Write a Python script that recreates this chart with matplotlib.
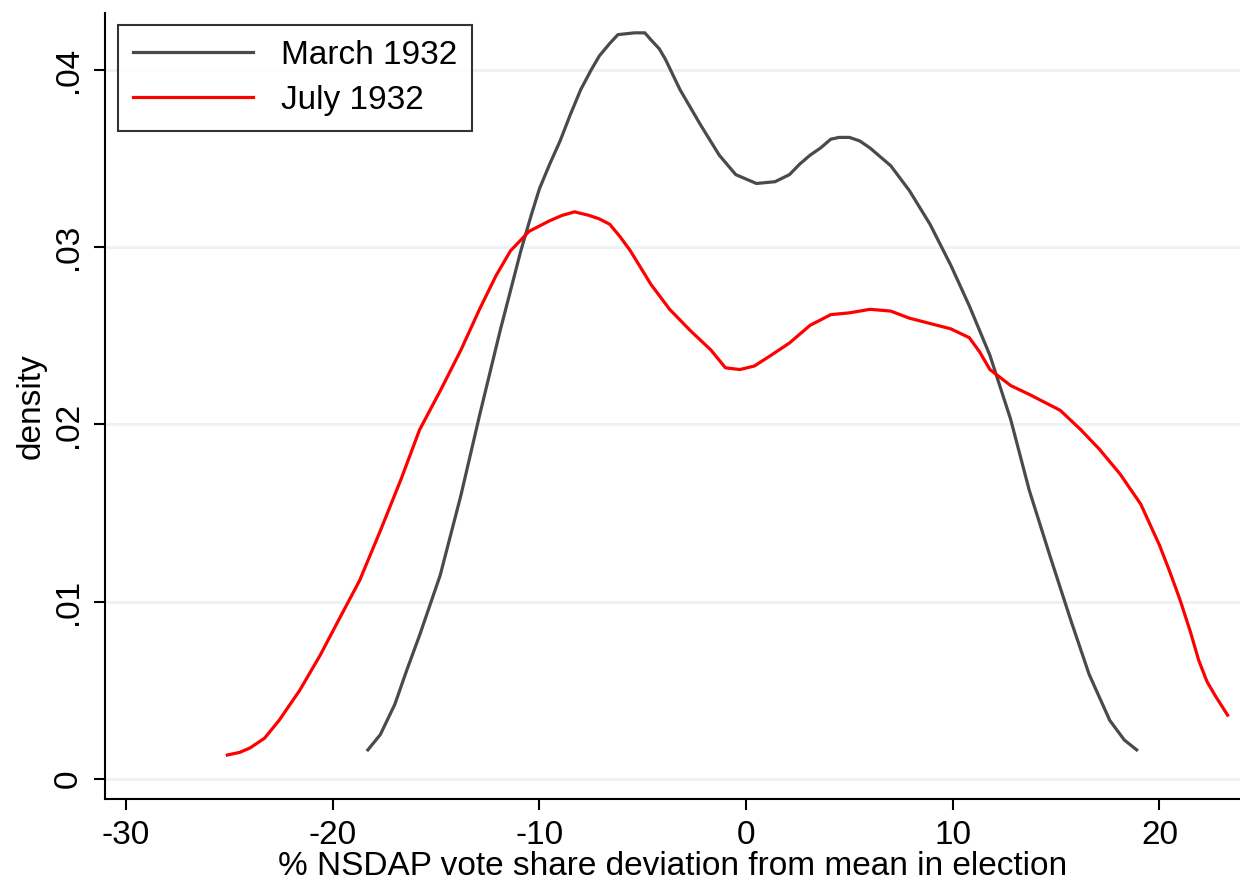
import matplotlib
matplotlib.use("Agg")
import matplotlib.pyplot as plt
import numpy as np

plt.rcParams['font.family'] = ['Liberation Sans', 'DejaVu Sans']
plt.rcParams['axes.unicode_minus'] = False

# Kernel density of NSDAP vote share deviation, March 1932
march_x = [-18.3, -17.7, -17.0, -16.4, -15.8, -14.8, -13.8, -12.9, -11.9, -10.9, -10.4, -10.0,
           -9.5, -9.0, -8.5, -8.0, -7.5, -7.1, -6.6, -6.2, -5.4, -4.9, -4.6, -4.2, -3.9, -3.2, -2.2, -1.3,
           -0.5, 0.5, 1.4, 2.1, 2.6, 3.1, 3.6, 4.1, 4.5, 5.0, 5.5, 6.0, 7.0, 7.9,
           8.9, 9.9, 10.8, 11.8, 12.8, 13.7, 14.7, 15.7, 16.6, 17.6, 18.3, 18.9]
march_y = [0.00164, 0.0025, 0.0042, 0.0062, 0.0081, 0.0115, 0.0160, 0.0205, 0.0253, 0.0298, 0.0318, 0.0333,
           0.0347, 0.0360, 0.0375, 0.0389, 0.0400, 0.0408, 0.0415, 0.0420, 0.0421, 0.0421, 0.0417, 0.0412, 0.0406, 0.0389, 0.0369, 0.0352,
           0.0341, 0.0336, 0.0337, 0.0341, 0.0347, 0.0352, 0.0356, 0.0361, 0.0362, 0.0362, 0.0360, 0.0356, 0.0346, 0.0332,
           0.0313, 0.0290, 0.0267, 0.0239, 0.0203, 0.0163, 0.0126, 0.0090, 0.0059, 0.0033, 0.0022, 0.00164]

# July 1932
july_x = [-25.1, -24.5, -24.0, -23.3, -22.6, -21.6, -20.6, -19.7, -18.7, -17.7, -16.7,
          -15.8, -14.8, -13.8, -12.9, -12.1, -11.4, -10.5, -9.5, -8.9, -8.3, -7.6,
          -7.1, -6.6, -6.1, -5.6, -4.6, -3.7, -2.7, -1.7, -1.0, -0.3, 0.4, 1.2,
          2.1, 3.1, 4.1, 5.0, 6.0, 7.0, 7.9, 8.9, 9.9, 10.8, 11.3,
          11.8, 12.8, 13.7, 15.2, 16.2, 17.1, 18.1, 19.1, 20.0, 20.5, 21.0,
          21.5, 21.9, 22.3, 22.7, 23.3]
july_y = [0.00135, 0.00150, 0.00175, 0.0023, 0.0033, 0.0050, 0.0070, 0.0090, 0.0112, 0.0140, 0.0169,
          0.0197, 0.0219, 0.0242, 0.0265, 0.0284, 0.0298, 0.0309, 0.0315, 0.0318, 0.0320, 0.0318,
          0.0316, 0.0313, 0.0306, 0.0298, 0.0279, 0.0265, 0.0253, 0.0242, 0.0232, 0.0231, 0.0233, 0.0239,
          0.0246, 0.0256, 0.0262, 0.0263, 0.0265, 0.0264, 0.0260, 0.0257, 0.0254, 0.0249, 0.0241,
          0.0231, 0.0222, 0.0217, 0.0208, 0.0197, 0.0186, 0.0172, 0.0155, 0.0132, 0.0117, 0.0101,
          0.0083, 0.0067, 0.0055, 0.0047, 0.0036]

xticks = [-30, -20, -10, 0, 10, 20]
yticks = [0, 0.01, 0.02, 0.03, 0.04]
ytick_labels = ['0', '.01', '.02', '.03', '.04']

fig = plt.figure(figsize=(12.4, 8.84), dpi=100)
ax = fig.add_axes([0.0847, 0.0962, 0.9153, 0.8891])

ax.plot(march_x, march_y, color='#4a4a4a', lw=2.3, label='March 1932', zorder=3)
ax.plot(july_x, july_y, color='#ff0000', lw=2.3, label='July 1932', zorder=3)

ax.set_xlim(-31.02, 23.9)
ax.set_ylim(-0.00113, 0.04322)

ax.set_xticks(xticks)
ax.set_yticks(yticks, labels=ytick_labels)
ax.tick_params(axis='both', labelsize=24, length=8, width=1.5, color='black', pad=7)
for lbl in ax.get_yticklabels():
    lbl.set_rotation(90)
    lbl.set_va('center')

ax.yaxis.grid(True, color='#eaf2f3', lw=2)
ax.set_axisbelow(True)

for side in ['top', 'right']:
    ax.spines[side].set_visible(False)
for side in ['left', 'bottom']:
    ax.spines[side].set_linewidth(1.5)

ax.set_xlabel('% NSDAP vote share deviation from mean in election', fontsize=24, labelpad=0)
ax.set_ylabel('density', fontsize=24, labelpad=5)

leg = ax.legend(loc='upper left', bbox_to_anchor=(0.011, 0.985), fontsize=24,
                frameon=True, fancybox=False, edgecolor='black', handlelength=3.6,
                handletextpad=0.85, borderpad=0.45, labelspacing=0.42, borderaxespad=0)
leg.get_frame().set_linewidth(1.5)

fig.savefig('out.png', dpi=100)
